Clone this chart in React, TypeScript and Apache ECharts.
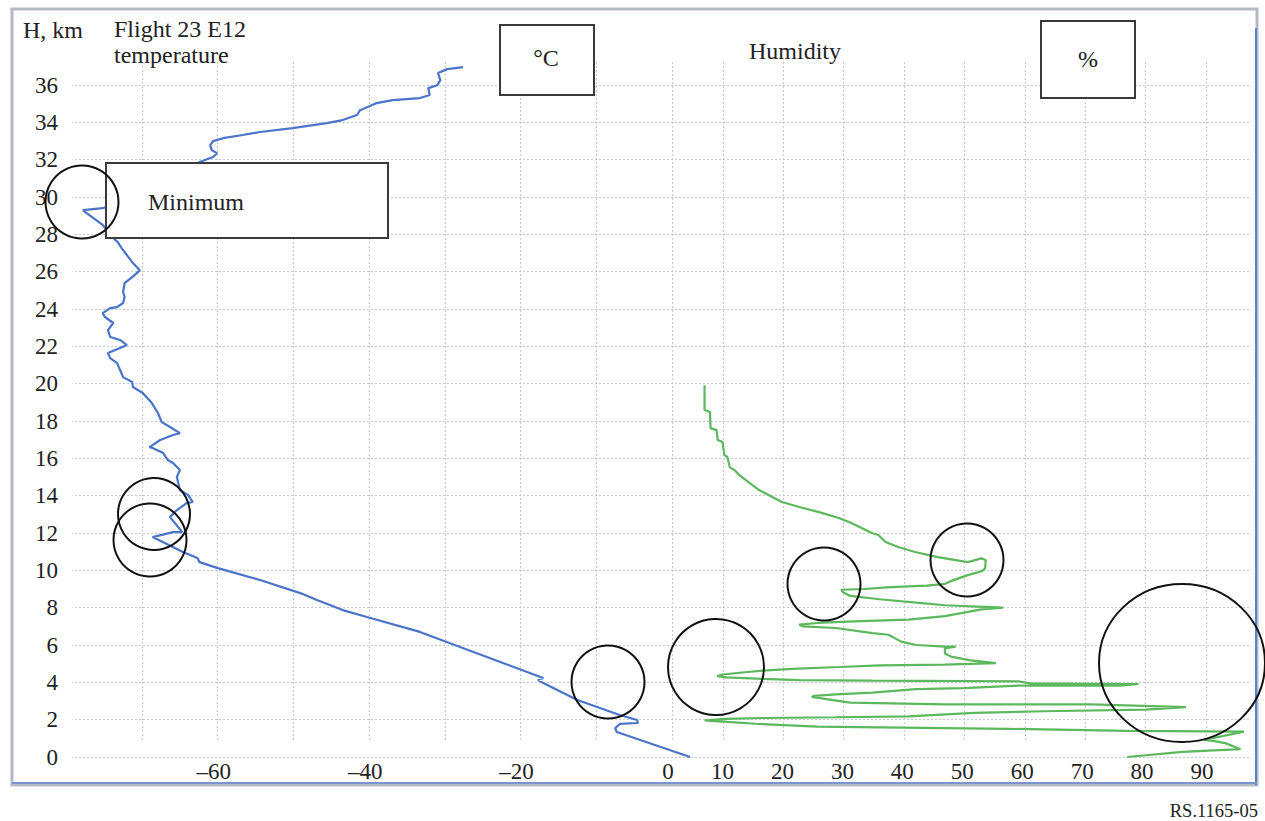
import React, { useEffect, useRef } from "react";
import * as echarts from "echarts";

// ---------- data ----------
const altitudeTicksKm = [0, 2, 4, 6, 8, 10, 12, 14, 16, 18, 20, 22, 24, 26, 28, 30, 32, 34, 36];
const tempLabelValues = [-60, -40, -20, 0];
const humidityLabelValues = [10, 20, 30, 40, 50, 60, 70, 80, 90];

// Temperature profile (bottom to top)
const tempAltKm = [
  0, 1.34, 1.55, 1.77, 1.82, 1.98, 2.25, 3.05, 3.96, 4.12, 4.23, 6.7, 7.5, 7.87, 8.41, 8.78, 9.48,
  10.12, 10.44, 10.66, 10.98, 11.78, 12.05, 12.05, 12.85, 13.23, 13.6, 13.66, 14.03, 14.3, 15.0,
  15.37, 15.75, 15.91, 16.28, 16.55, 16.6, 16.98, 17.25, 17.35, 17.68, 17.94, 18.43, 18.96, 19.5,
  19.82, 20.09, 20.35, 20.73, 21.1, 21.37, 21.64, 21.91, 22.07, 22.34, 22.5, 22.87, 23.25, 23.57,
  23.78, 24.05, 24.1, 24.32, 24.64, 24.91, 25.39, 25.71, 25.92, 26.08, 26.46, 26.89, 27.26, 27.58,
  27.8, 28.5, 29.19, 29.3, 29.4, 30.1, 31.17, 31.87, 32.14, 32.35, 32.51, 32.78, 32.99, 33.15,
  33.32, 33.48, 33.69, 33.96, 34.12, 34.39, 34.65, 35.03, 35.19, 35.3, 35.46, 35.83, 35.99, 36.26,
  36.64, 36.85, 36.96,
];
const tempC = [
  2.4, -7.3, -7.5, -6.9, -4.5, -4.6, -6.9, -12.5, -17.0, -17.7, -17.0, -33.3, -40.3, -43.5, -46.9,
  -49.1, -54.4, -60.0, -62.4, -62.7, -64.6, -68.6, -65.9, -64.7, -66.3, -65.4, -64.1, -63.3, -63.9,
  -65.0, -65.4, -65.0, -65.9, -66.6, -67.2, -68.6, -69.0, -67.6, -65.9, -65.0, -66.3, -67.4, -67.9,
  -68.7, -69.9, -71.2, -71.3, -72.5, -72.9, -73.3, -74.2, -74.5, -72.9, -72.0, -72.9, -74.2, -74.5,
  -73.8, -74.9, -75.2, -74.2, -73.3, -72.5, -72.3, -72.5, -72.3, -71.3, -70.7, -70.3, -71.2, -72.0,
  -72.7, -73.2, -73.8, -75.2, -77.5, -77.8, -75.2, -70.3, -65.0, -62.4, -60.6, -60.1, -60.8, -61.0,
  -60.6, -59.3, -56.7, -54.4, -50.1, -45.6, -43.5, -41.6, -41.2, -39.0, -36.9, -33.3, -32.0, -32.2,
  -31.0, -30.6, -30.9, -29.7, -27.6,
];

// Humidity profile (top to bottom)
const humAltKm = [
  19.92, 18.59, 18.48, 17.62, 17.51, 16.98, 16.87, 16.18, 16.07, 15.53, 15.37, 15.1, 14.68, 14.3,
  13.93, 13.66, 13.39, 13.12, 12.8, 12.53, 12.0, 11.89, 11.52, 11.25, 10.98, 10.71, 10.44, 10.64,
  10.55, 10.09, 9.95, 9.73, 9.45, 9.27, 9.18, 9.14, 9.09, 9.0, 8.96, 8.82, 8.63, 8.45, 8.27, 8.13,
  8.06, 8.0, 7.91, 7.55, 7.36, 7.27, 7.18, 7.09, 7.0, 6.91, 6.64, 6.55, 6.18, 6.0, 5.91, 5.91, 5.82,
  5.54, 5.36, 5.18, 5.03, 4.95, 4.91, 4.82, 4.72, 4.63, 4.54, 4.42, 4.33, 4.27, 4.18, 4.12, 4.09,
  4.05, 3.94, 3.91, 3.82, 3.82, 3.69, 3.64, 3.45, 3.36, 3.27, 3.22, 3.09, 2.91, 2.82, 2.82, 2.67,
  2.54, 2.45, 2.36, 2.18, 2.13, 2.09, 2.04, 1.96, 1.91, 1.78, 1.63, 1.51, 1.4, 1.36, 0.91, 0.85,
  0.73, 0.42, 0.27, 0.0,
];
const humPct = [
  7.0, 7.0, 7.9, 8.0, 9.0, 9.2, 10.0, 10.3, 10.8, 11.2, 12.0, 12.8, 14.5, 16.1, 18.3, 19.9, 22.8,
  26.1, 29.4, 31.5, 34.9, 36.0, 37.2, 39.3, 42.1, 45.9, 50.9, 53.2, 53.9, 53.8, 53.2, 50.8, 48.3,
  47.1, 44.1, 41.0, 37.4, 33.7, 29.8, 30.1, 31.3, 36.2, 42.3, 47.1, 52.6, 56.8, 53.2, 47.1, 41.0,
  31.9, 25.8, 22.8, 23.4, 28.9, 35.0, 37.7, 39.8, 42.3, 47.1, 48.9, 47.1, 47.1, 48.3, 51.4, 55.6,
  47.1, 36.2, 29.5, 21.6, 16.7, 13.7, 10.0, 9.1, 10.6, 16.7, 22.8, 35.0, 59.3, 61.4, 79.4, 76.3,
  59.3, 50.2, 42.3, 35.0, 28.9, 25.2, 24.9, 27.6, 31.3, 47.1, 71.5, 87.3, 80.6, 63.5, 52.0, 41.0,
  28.9, 16.7, 10.6, 7.0, 9.4, 15.5, 25.8, 57.5, 77.5, 97.0, 90.3, 92.1, 94.0, 96.4, 86.7, 77.5,
];

const tempSeriesData = tempC.map((t, i) => [t, tempAltKm[i]]);
const humSeriesData = humPct.map((h, i) => [h, humAltKm[i]]);

const SERIF = "'Liberation Serif', 'Times New Roman', serif";
const GRID_LINE = { color: "#c6cad8", type: [2, 2] as any, width: 1 };

// pixel layout of the scales
const PX_PER_KM = 18.667;
const Y0 = 757; // pixel of 0 km
const T0 = 672; // pixel of 0 °C
const PX_PER_C = 7.571;
const H0 = 662.6; // pixel of 0 %
const PX_PER_PCT = 6.0375;

export default function App() {
  const ref = useRef<HTMLDivElement>(null);

  useEffect(() => {
    document.body.style.margin = "0";
    if (!ref.current) return;
    const chart = echarts.init(ref.current, undefined, { renderer: "svg" });

    const seriesTop = Y0 - 38 * PX_PER_KM;
    const hiddenY = (gi: number, max: number) => ({
      type: "value",
      gridIndex: gi,
      min: 0,
      max,
      interval: 2,
      show: false,
    });

    const circle = (cx: number, cy: number, r: number) => ({
      type: "circle",
      z: 120,
      shape: { cx, cy, r },
      style: { fill: "none", stroke: "#111", lineWidth: 2 },
    });
    const box = (x: number, y: number, width: number, height: number) => ({
      type: "rect",
      z: 110,
      shape: { x, y, width, height },
      style: { fill: "#fff", stroke: "#3a3a3a", lineWidth: 2 },
    });
    const label = (text: string, x: number, y: number, size = 24, align = "left") => ({
      type: "text",
      z: 130,
      x,
      y,
      style: {
        text,
        fill: "#222",
        font: `${size}px ${SERIF}`,
        align,
        verticalAlign: "middle",
      },
    });

    const option: any = {
      animation: false,
      backgroundColor: "#ffffff",
      grid: [
        { left: 75, right: 15, top: 85, bottom: 821 - Y0 },
        // temperature series grid: -80 .. 10 °C
        { left: T0 - 80 * PX_PER_C, width: 90 * PX_PER_C, top: seriesTop, bottom: 821 - Y0 },
        // humidity series grid: 0 .. 100 %
        { left: H0, width: 100 * PX_PER_PCT, top: seriesTop, bottom: 821 - Y0 },
        // vertical grid lines
        { left: T0 - 70 * PX_PER_C, width: 70 * PX_PER_C, top: 62, bottom: 81 },
        { left: H0 + 10 * PX_PER_PCT, width: 80 * PX_PER_PCT, top: 62, bottom: 81 },
      ],
      xAxis: [
        { type: "value", gridIndex: 0, min: 0, max: 1, show: false },
        {
          type: "value",
          gridIndex: 1,
          min: -80,
          max: 10,
          interval: 10,
          axisLine: { show: false },
          axisTick: { show: false },
          splitLine: { show: false },
          axisLabel: {
            margin: 3,
            showMinLabel: true,
            showMaxLabel: true,
            color: "#222",
            fontFamily: SERIF,
            fontSize: 23,
            padding: [0, 8, 0, 0],
            formatter: (v: number) =>
              tempLabelValues.includes(v) ? (v < 0 ? "\u2013" + Math.abs(v) : String(v)) : "",
          },
        },
        {
          type: "value",
          gridIndex: 2,
          min: 0,
          max: 100,
          interval: 10,
          axisLine: { show: false },
          axisTick: { show: false },
          splitLine: { show: false },
          axisLabel: {
            margin: 3,
            showMinLabel: true,
            showMaxLabel: true,
            color: "#222",
            fontFamily: SERIF,
            fontSize: 23,
            formatter: (v: number) => (humidityLabelValues.includes(v) ? String(v) : ""),
          },
        },
        {
          type: "value",
          gridIndex: 3,
          min: -70,
          max: 0,
          interval: 10,
          axisLine: { show: false },
          axisTick: { show: false },
          axisLabel: { show: false },
          splitLine: { show: true, lineStyle: GRID_LINE },
        },
        {
          type: "value",
          gridIndex: 4,
          min: 10,
          max: 90,
          interval: 10,
          axisLine: { show: false },
          axisTick: { show: false },
          axisLabel: { show: false },
          splitLine: { show: true, lineStyle: GRID_LINE },
        },
      ],
      yAxis: [
        {
          type: "value",
          gridIndex: 0,
          min: altitudeTicksKm[0],
          max: altitudeTicksKm[altitudeTicksKm.length - 1],
          interval: 2,
          axisLine: { show: false },
          axisTick: { show: false },
          splitLine: { show: true, lineStyle: GRID_LINE },
          axisLabel: {
            margin: 17,
            color: "#222",
            fontFamily: SERIF,
            fontSize: 23,
          },
        },
        hiddenY(1, 38),
        hiddenY(2, 38),
        hiddenY(3, 36),
        hiddenY(4, 36),
      ],
      series: [
        {
          name: "temperature",
          type: "line",
          xAxisIndex: 1,
          yAxisIndex: 1,
          data: tempSeriesData,
          showSymbol: false,
          clip: false,
          z: 5,
          lineStyle: { color: "#4a74c9", width: 2.2 },
        },
        {
          name: "Humidity",
          type: "line",
          xAxisIndex: 2,
          yAxisIndex: 2,
          data: humSeriesData,
          showSymbol: false,
          clip: false,
          z: 5,
          lineStyle: { color: "#5cb85c", width: 2.2 },
        },
      ],
      graphic: [
        {
          type: "rect",
          z: 100,
          shape: { x: 12, y: 9, width: 1245, height: 776 },
          style: { fill: "none", stroke: "#b5b9c6", lineWidth: 3 },
        },
        {
          type: "line",
          z: 101,
          shape: { x1: 1256, y1: 28, x2: 1256, y2: 785 },
          style: { stroke: "#5a80d2", lineWidth: 2 },
        },
        {
          type: "line",
          z: 101,
          shape: { x1: 12, y1: 783, x2: 1257, y2: 783 },
          style: { stroke: "#7b94cf", lineWidth: 2 },
        },
        label("H, km", 23, 30),
        label("Flight 23 E12", 114, 29),
        label("temperature", 114, 55),
        box(500, 25, 94, 70),
        label("\u00B0C", 546, 58, 24, "center"),
        label("Humidity", 749, 51),
        box(1041, 21, 94, 77),
        label("%", 1088, 59, 24, "center"),
        box(106, 163, 282, 75),
        label("Minimum", 148, 202),
        label("RS.1165-05", 1258, 811, 18.5, "right"),
        circle(82, 202, 36.5),
        circle(154, 514, 36),
        circle(150, 540, 36.5),
        circle(608, 682, 36.5),
        circle(716, 667, 48),
        circle(824, 584, 36.5),
        circle(967, 560, 36.5),
        {
          type: "ellipse",
          z: 120,
          shape: { cx: 1182, cy: 663, rx: 83, ry: 79 },
          style: { fill: "none", stroke: "#111", lineWidth: 2 },
        },
      ],
    };

    chart.setOption(option);
    return () => chart.dispose();
  }, []);

  return <div ref={ref} style={{ width: 1265, height: 821 }} />;
}
